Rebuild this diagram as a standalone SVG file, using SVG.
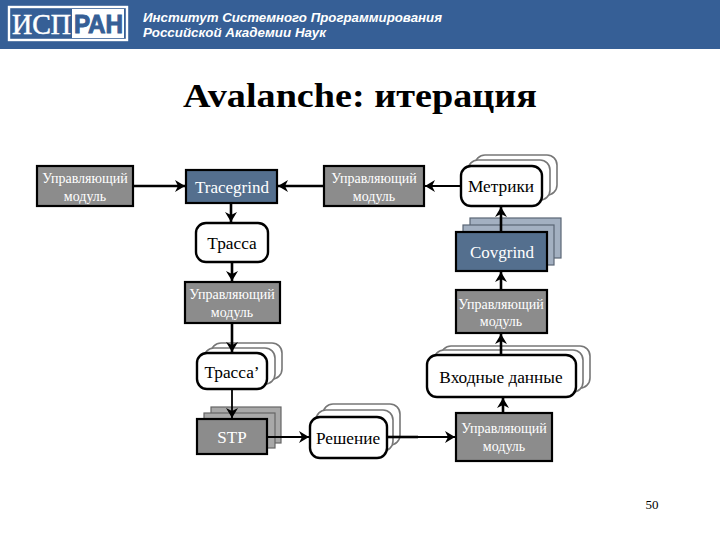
<svg xmlns="http://www.w3.org/2000/svg" width="720" height="540" viewBox="0 0 720 540">
<style>
.ser{font-family:"Liberation Serif","Times New Roman",serif}
.box{stroke:#000;stroke-width:2.2}
.gray{fill:#8c8c8c}
.blue{fill:#546f8e}
.wt{fill:#fff;stroke:#000;stroke-width:2.4}
.bk{fill:#fff;stroke:#777;stroke-width:1.6}
.bkg{fill:#a8a8a8;stroke:#666;stroke-width:1.2}
.bkb{fill:#a3b0c1;stroke:#5a6675;stroke-width:1.2}
.l{font-size:14px;fill:#fff;text-anchor:middle}
.m{font-size:17px;fill:#fff;text-anchor:middle}
.d{font-size:17.3px;fill:#000;text-anchor:middle}
.c{fill:none;stroke:#000;stroke-width:2.6}
.t{fill:none;stroke:#000;stroke-width:1.8}
.h{font-family:"Liberation Sans",Arial,sans-serif;font-weight:bold;font-style:italic;font-size:12.6px;fill:#fff}
</style>
<defs>
<marker id="a" markerUnits="userSpaceOnUse" markerWidth="12" markerHeight="13" refX="10" refY="6" orient="auto"><path d="M0 0L10 6L0 12L3 6Z" fill="#000"/></marker>
</defs>
<rect width="720" height="540" fill="#fff"/>
<g id="header">
<rect width="720" height="49" fill="#365f96"/>
<rect x="9" y="7" width="118" height="33" fill="none" stroke="#fff" stroke-width="2.4"/>
<rect x="72" y="9" width="52" height="29" fill="#fff"/>
<text x="12" y="34" class="ser" font-size="30" fill="#fff" stroke="#fff" stroke-width="0.5" textLength="59" lengthAdjust="spacingAndGlyphs">ИСП</text>
<text x="74" y="33" font-family="'Liberation Sans',Arial,sans-serif" font-weight="bold" font-size="26" fill="#365f96" stroke="#365f96" stroke-width="1" textLength="49" lengthAdjust="spacingAndGlyphs">РАН</text>
<text x="143" y="22" class="h" textLength="299" lengthAdjust="spacingAndGlyphs">Институт Системного Программирования</text>
<text x="143" y="37" class="h" textLength="183" lengthAdjust="spacingAndGlyphs">Российской Академии Наук</text>
</g>
<text id="title" x="360" y="107" class="ser" font-size="33" font-weight="bold" text-anchor="middle" textLength="354" lengthAdjust="spacingAndGlyphs">Avalanche: итерация</text>
<g id="stacks">
<rect class="bk" x="475" y="155" width="82" height="40" rx="10"/>
<rect class="bk" x="468" y="160" width="82" height="40" rx="10"/>
<rect class="bkb" x="470" y="218" width="91" height="40"/>
<rect class="bkb" x="463" y="225" width="91" height="40"/>
<rect class="bk" x="211" y="343" width="71" height="36" rx="10"/>
<rect class="bk" x="204" y="348" width="71" height="36" rx="10"/>
<rect class="bkg" x="211" y="407" width="70" height="36"/>
<rect class="bkg" x="204" y="413" width="71" height="35"/>
<rect class="bk" x="323" y="404" width="77" height="41" rx="10"/>
<rect class="bk" x="316" y="410" width="77" height="41" rx="10"/>
<rect class="bk" x="441" y="346" width="149" height="42" rx="10"/>
<rect class="bk" x="434" y="350" width="149" height="42" rx="10"/>
</g>
<g id="n1"><rect class="box gray" x="37" y="166" width="96" height="40"/><text class="ser l" x="85" y="183">Управляющий</text><text class="ser l" x="85" y="201">модуль</text></g>
<g id="n2"><rect class="box blue" x="186" y="170" width="91" height="33"/><text class="ser m" x="232" y="193">Tracegrind</text></g>
<g id="n3"><rect class="wt" x="196" y="223" width="72" height="39" rx="10"/><text class="ser d" x="232" y="249">Трасса</text></g>
<g id="n4"><rect class="box gray" x="185" y="282" width="95" height="41"/><text class="ser l" x="232" y="299">Управляющий</text><text class="ser l" x="232" y="317">модуль</text></g>
<g id="n5"><rect class="wt" x="197" y="353" width="70" height="36" rx="10"/><text class="ser d" x="232" y="378">Трасса’</text></g>
<g id="n6"><rect class="box gray" x="197" y="419" width="70" height="35"/><text class="ser m" x="232" y="443">STP</text></g>
<g id="n7"><rect class="wt" x="310" y="417" width="77" height="41" rx="10"/><text class="ser d" x="348" y="444">Решение</text></g>
<g id="n8"><rect class="box gray" x="324" y="166" width="100" height="40"/><text class="ser l" x="374" y="183">Управляющий</text><text class="ser l" x="374" y="201">модуль</text></g>
<g id="n9"><rect class="wt" x="461" y="166" width="81" height="40" rx="10"/><text class="ser d" x="501" y="192">Метрики</text></g>
<g id="n10"><rect class="box blue" x="456" y="232" width="91" height="39"/><text class="ser m" x="502" y="258">Covgrind</text></g>
<g id="n11"><rect class="box gray" x="456" y="290" width="91" height="43"/><text class="ser l" x="501" y="309">Управляющий</text><text class="ser l" x="501" y="326">модуль</text></g>
<g id="n12"><rect class="wt" x="427" y="355" width="149" height="42" rx="10"/><text class="ser d" x="501" y="383">Входные данные</text></g>
<g id="n13"><rect class="box gray" x="456" y="413" width="96" height="48"/><text class="ser l" x="504" y="433">Управляющий</text><text class="ser l" x="504" y="451">модуль</text></g>
<g id="connectors">
<path class="c" marker-end="url(#a)" d="M133 186H185"/>
<path class="c" marker-end="url(#a)" d="M324 186H278"/>
<path class="c" marker-end="url(#a)" d="M231 203V222"/>
<path class="c" marker-end="url(#a)" d="M232 262V281"/>
<path class="c" marker-end="url(#a)" d="M232 323V352"/>
<path class="t" marker-end="url(#a)" d="M232 389V418"/>
<path class="t" marker-end="url(#a)" d="M267 437H309"/>
<path class="t" marker-end="url(#a)" d="M387 437H455"/>
<path class="c" d="M387 437H418"/>
<path class="t" marker-end="url(#a)" d="M461 186H425"/>
<path class="c" marker-end="url(#a)" d="M501 232V207"/>
<path class="c" marker-end="url(#a)" d="M501 290V272"/>
<path class="c" marker-end="url(#a)" d="M501 355V334"/>
<path class="c" marker-end="url(#a)" d="M503 413V398"/>
</g>
<text id="page" x="652" y="509" class="ser" font-size="13" text-anchor="middle">50</text>
</svg>
